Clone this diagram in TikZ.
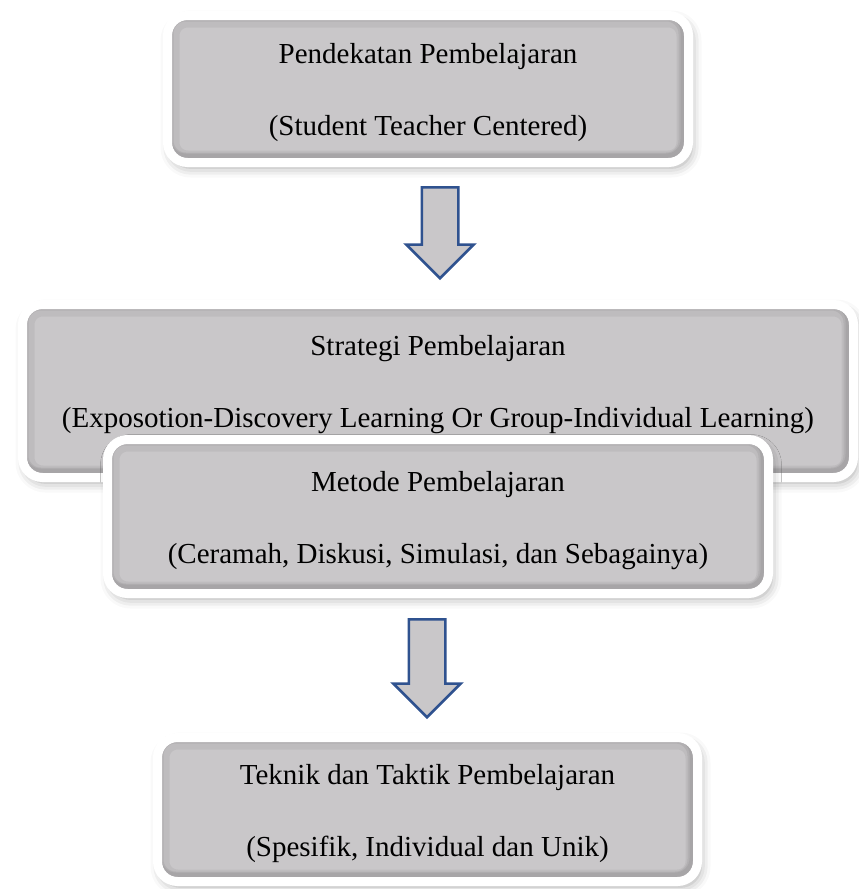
\documentclass[tikz,border=0pt]{standalone}
\usepackage{fontspec}
\setmainfont{Liberation Serif}
\usepackage{tikz}
\usetikzlibrary{shapes.arrows}
\usetikzlibrary{shadows.blur}
\definecolor{boxgray}{RGB}{201,199,201}
\definecolor{arrowblue}{RGB}{47,82,143}
\tikzset{box/.style={rectangle, rounded corners=10pt, fill=boxgray, draw=white, line width=4.5pt,
  align=center, font=\fontsize{14.5pt}{36pt}\selectfont, inner sep=0pt, text height=50pt,
  blur shadow={shadow xshift=1.5pt, shadow yshift=-2.5pt, shadow blur radius=5pt, shadow opacity=35},
  path picture={
    \draw[black, opacity=0.05, line width=12pt, rounded corners=10pt] (path picture bounding box.south west) rectangle (path picture bounding box.north east);
    \draw[black, opacity=0.06, line width=8pt, rounded corners=10pt] ([xshift=-1pt,yshift=1pt]path picture bounding box.south west) rectangle ([xshift=-1pt,yshift=1pt]path picture bounding box.north east);
    \draw[black, opacity=0.06, line width=6pt, rounded corners=10pt] ([xshift=-1pt,yshift=1.5pt]path picture bounding box.south west) rectangle ([xshift=-1pt,yshift=1.5pt]path picture bounding box.north east);}},
%block arrow between the boxes
down arrow/.style={single arrow, shape border rotate=270, fill=boxgray, draw=arrowblue, line width=1.25pt,
  inner sep=8.5pt, minimum width=33.5pt, single arrow head extend=7.75pt, anchor=tail}}

\begin{document}
\begin{tikzpicture}[x=0.5pt,y=-0.5pt]
\useasboundingbox (0,0) rectangle (858,889);

% boxes
\node[box, minimum width=260.5pt, minimum height=73.5pt] (pendekatan) at (428,89)
  {Pendekatan Pembelajaran\\(Student Teacher Centered)};
\node[box, minimum width=415.5pt, minimum height=86.5pt, text depth=14pt] (strategi) at (438,391)
  {Strategi Pembelajaran\\(Exposotion-Discovery Learning Or Group-Individual Learning)};
\node[box, minimum width=330.5pt, minimum height=77pt] (metode) at (438,516.5)
  {Metode Pembelajaran\\(Ceramah, Diskusi, Simulasi, dan Sebagainya)};
\node[box, minimum width=270pt, minimum height=72pt] (teknik) at (427.5,809.5)
  {Teknik dan Taktik Pembelajaran\\(Spesifik, Individual dan Unik)};

% arrows
\node[down arrow, minimum height=45.5pt] (panah1) at ([xshift=6pt,yshift=-9.5pt]pendekatan.south) {};
\node[down arrow, minimum height=49pt] (panah2) at ([xshift=-5.5pt,yshift=-10pt]metode.south) {};

\end{tikzpicture}
\end{document}
